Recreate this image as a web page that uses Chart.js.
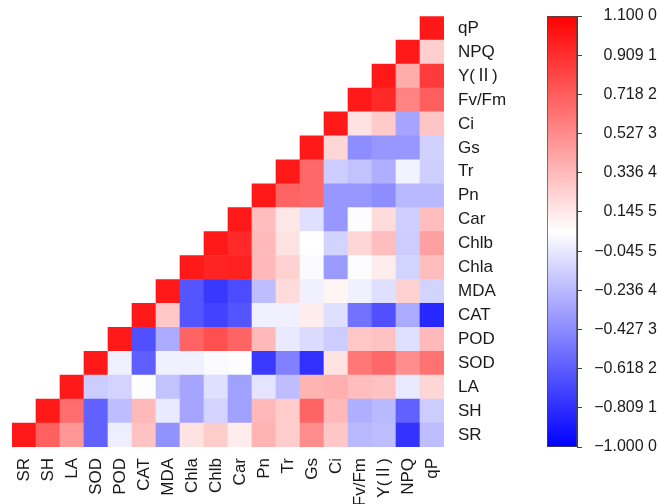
<!DOCTYPE html>
<html>
<head>
<meta charset="utf-8">
<script src="https://cdn.jsdelivr.net/npm/chart.js@4.4.1/dist/chart.umd.min.js"></script>
<style>
    body { margin: 0; background: #fff; }
    #wrap { position: relative; width: 658px; height: 504px; }
    #heat { position: absolute; left: 0; top: 0; }
    #bar { position: absolute; left: 540px; top: 0; }
</style>
</head>
<body>
<div id="wrap">
    <canvas id="heat" width="540" height="504"></canvas>
    <canvas id="bar" width="118" height="504"></canvas>
</div>
<script>
// variable names, bottom row / left column first
const names = ['SR', 'SH', 'LA', 'SOD', 'POD', 'CAT', 'MDA', 'Chla', 'Chlb', 'Car',
    'Pn', 'Tr', 'Gs', 'Ci', 'Fv/Fm', 'Y(Ⅱ)', 'NPQ', 'qP'];

// correlation of each variable with itself and every variable to its right
const rSR = [1, 0.70, 0.48, -0.60, -0.02, 0.30, -0.40, 0.17, 0.26, 0.13, 0.36, 0.26, 0.52, 0.28, -0.24, -0.22, -0.79, -0.22];
const rSH = [1, 0.65, -0.60, -0.22, 0.34, -0.04, -0.32, -0.13, -0.34, 0.34, 0.26, 0.69, 0.34, -0.28, -0.24, -0.60, -0.16];
const rLA = [1, -0.16, -0.13, 0.04, -0.20, -0.32, -0.08, -0.34, -0.06, -0.22, 0.36, 0.38, 0.32, 0.30, -0.04, 0.22];
const rSOD = [1, -0.01, -0.61, -0.01, -0.01, 0.03, 0.04, -0.76, -0.47, -0.80, 0.17, 0.61, 0.67, 0.52, 0.63];
const rPOD = [1, -0.67, -0.30, 0.69, 0.77, 0.69, 0.34, -0.04, -0.10, -0.16, 0.28, 0.30, -0.08, 0.34];
const rCAT = [1, 0.28, -0.65, -0.73, -0.65, -0.01, -0.01, 0.13, -0.08, -0.53, -0.67, -0.30, -0.84];
const rMDA = [1, -0.65, -0.77, -0.69, -0.22, 0.20, -0.01, 0.09, -0.01, -0.08, 0.24, -0.13];
const rChla = [1, 0.95, 0.97, 0.34, 0.24, 0.03, -0.36, 0.04, 0.13, -0.13, 0.32];
const rChlb = [1, 0.93, 0.34, 0.17, 0.05, -0.13, 0.22, 0.32, -0.16, 0.44];
const rCar = [1, 0.32, 0.15, -0.08, -0.38, 0.04, 0.20, -0.15, 0.32];
const rPn = [1, 0.69, 0.67, -0.38, -0.38, -0.42, -0.24, -0.24];
const rTr = [1, 0.67, -0.16, -0.20, -0.28, 0.00, -0.15];
const rGs = [1, 0.22, -0.42, -0.38, -0.38, -0.14];
const rCi = [1, 0.17, 0.27, -0.32, 0.29];
const rFvFm = [1, 0.93, 0.56, 0.71];
const rY2 = [1, 0.39, 0.86];
const rNPQ = [1, 0.25];
const rqP = [1];

// colour bar range and tick labels
const cMin = -1.0;
const cMax = 1.1;
const cTicks = [1.1, 0.9091, 0.7182, 0.5273, 0.3364, 0.1455, -0.0455, -0.2364, -0.4273, -0.6182, -0.8091, -1.0];

const rows = [rSR, rSH, rLA, rSOD, rPOD, rCAT, rMDA, rChla, rChlb, rCar,
    rPn, rTr, rGs, rCi, rFvFm, rY2, rNPQ, rqP];

const FONT = "'Liberation Sans', Arial, 'Noto Sans CJK SC', sans-serif";
const TEXT = '#1a1a1a';
const mid = (cMin + cMax) / 2;

function colorFor(v) {
    let r, g, b;
    if (v >= mid) {
        const t = Math.min(1, (v - mid) / (cMax - mid));
        r = 255; g = b = Math.round(255 * (1 - t));
    } else {
        const t = Math.min(1, (mid - v) / (mid - cMin));
        b = 255; r = g = Math.round(255 * (1 - t));
    }
    return `rgb(${r},${g},${b})`;
}

// one floating-bar dataset per row
const datasets = rows.map((vals, r) => {
    const data = names.map((n, c) => (c >= r ? [r - 0.5, r + 0.5] : null));
    const colors = names.map((n, c) => (c >= r ? colorFor(vals[c - r]) : 'rgba(0,0,0,0)'));
    return {
        data: data,
        backgroundColor: colors,
        borderWidth: 0,
        barPercentage: 1,
        categoryPercentage: 1,
        grouped: false
    };
});

new Chart(document.getElementById('heat'), {
    type: 'bar',
    data: { labels: names, datasets: datasets },
    options: {
        responsive: false,
        animation: false,
        layout: { padding: { left: 12, top: 16, right: 0, bottom: 0 } },
        plugins: { legend: { display: false }, tooltip: { enabled: false } },
        scales: {
            x: {
                grid: { display: false },
                border: { display: false },
                ticks: {
                    autoSkip: false, minRotation: 90, maxRotation: 90, padding: 3,
                    color: TEXT, font: { family: FONT, size: 17 }
                },
                afterFit: scale => { scale.height = 57; }
            },
            y: {
                type: 'linear',
                position: 'right',
                min: -0.5,
                max: 17.5,
                grid: { display: false },
                border: { display: false },
                afterBuildTicks: scale => { scale.ticks = names.map((n, i) => ({ value: i })); },
                ticks: {
                    padding: 6,
                    color: TEXT,
                    font: { family: FONT, size: 17 },
                    callback: v => names[v]
                },
                afterFit: scale => { scale.width = 96; }
            }
        }
    }
});

function fmtTick(v) {
    const s = Math.abs(v).toFixed(4);
    return (v < 0 ? '\u2212' : '') + s.slice(0, -1) + ' ' + s.slice(-1);
}

new Chart(document.getElementById('bar'), {
    type: 'bar',
    data: {
        labels: [''],
        datasets: [{
            data: [[cMin, cMax]],
            backgroundColor: ctx => {
                const a = ctx.chart.chartArea;
                if (!a) return null;
                const g = ctx.chart.ctx.createLinearGradient(0, a.bottom, 0, a.top);
                g.addColorStop(0, colorFor(cMin));
                g.addColorStop((mid - cMin) / (cMax - cMin), colorFor(mid));
                g.addColorStop(1, colorFor(cMax));
                return g;
            },
            borderColor: '#444',
            borderWidth: 1,
            borderSkipped: false,
            barPercentage: 1,
            categoryPercentage: 1
        }]
    },
    options: {
        responsive: false,
        animation: false,
        layout: { padding: { left: 7, top: 16, right: 1, bottom: 57 } },
        plugins: { legend: { display: false }, tooltip: { enabled: false } },
        scales: {
            x: { display: false },
            y: {
                position: 'right',
                min: cMin,
                max: cMax,
                grid: { drawOnChartArea: false, tickLength: 5, color: '#444' },
                border: { display: true, color: '#444' },
                afterBuildTicks: scale => { scale.ticks = cTicks.map(v => ({ value: v })); },
                ticks: {
                    crossAlign: 'far',
                    color: TEXT,
                    font: { family: FONT, size: 16 },
                    callback: v => fmtTick(v)
                },
                afterFit: scale => { scale.width = 80; }
            }
        }
    }
});
</script>
</body>
</html>
